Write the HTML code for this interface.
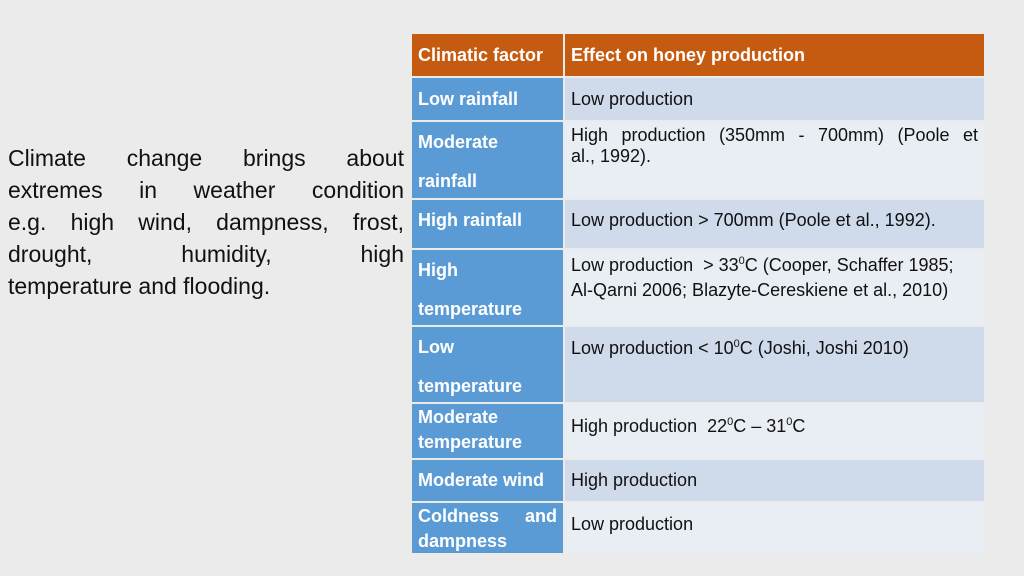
<!DOCTYPE html>
<html><head><meta charset="utf-8"><style>
body{margin:0;width:1024px;height:576px;background:#ebebeb;position:relative;overflow:hidden;font-family:"Liberation Sans",sans-serif;}
.l{position:absolute;left:8px;width:396px;font-size:23px;color:#111;text-align:justify;text-align-last:justify;white-space:nowrap;line-height:32px}
.c{position:absolute;box-sizing:border-box;font-size:18px;line-height:21px;padding:4px 6px;white-space:nowrap}
.h{background:#c55a11;color:#fff;font-weight:bold}
.b{background:#5b9bd5;color:#fff;font-weight:bold}
.d{background:#cfdaea;color:#111}
.e{background:#e9edf4;color:#111}
sup{font-size:11px;vertical-align:7px;line-height:0}
.j{text-align:justify;text-align-last:justify}
</style></head><body>
<div class="l" style="top:142px">Climate change brings about</div>
<div class="l" style="top:174px">extremes in weather condition</div>
<div class="l" style="top:206px">e.g. high wind, dampness, frost,</div>
<div class="l" style="top:238px">drought, humidity, high</div>
<div class="l" style="top:270px;text-align-last:left">temperature and flooding.</div>

<div class="c h" style="left:412px;top:34px;width:151px;height:42px;padding-top:11px">Climatic factor</div>
<div class="c h" style="left:565px;top:34px;width:419px;height:42px;padding-top:11px">Effect on honey production</div>

<div class="c b" style="left:412px;top:78px;width:151px;height:42px;padding-top:11px">Low rainfall</div>
<div class="c d" style="left:565px;top:78px;width:419px;height:42px;padding-top:11px">Low production</div>

<div class="c b" style="left:412px;top:122px;width:151px;height:76px;line-height:39px;padding-top:1px">Moderate<br>rainfall</div>
<div class="c e" style="left:565px;top:122px;width:419px;height:76px;padding-top:3px"><div class="j">High production (350mm - 700mm) (Poole et</div>al., 1992).</div>

<div class="c b" style="left:412px;top:200px;width:151px;height:48px;padding-top:10px">High rainfall</div>
<div class="c d" style="left:565px;top:200px;width:419px;height:48px;padding-top:10px">Low production &gt; 700mm (Poole et al., 1992).</div>

<div class="c b" style="left:412px;top:250px;width:151px;height:75px;line-height:39px;padding-top:1px">High<br>temperature</div>
<div class="c e" style="left:565px;top:250px;width:419px;height:75px;padding-top:3px;line-height:25px">Low production &nbsp;&gt; 33<sup>0</sup>C (Cooper, Schaffer 1985;<br>Al-Qarni 2006; Blazyte-Cereskiene et al., 2010)</div>

<div class="c b" style="left:412px;top:327px;width:151px;height:75px;line-height:39px;padding-top:1px">Low<br>temperature</div>
<div class="c d" style="left:565px;top:327px;width:419px;height:75px;padding-top:11px">Low production &lt; 10<sup>0</sup>C (Joshi, Joshi 2010)</div>

<div class="c b" style="left:412px;top:404px;width:151px;height:54px;line-height:25px;padding-top:1px">Moderate<br>temperature</div>
<div class="c e" style="left:565px;top:404px;width:419px;height:54px;padding-top:12px">High production &nbsp;22<sup>0</sup>C – 31<sup>0</sup>C</div>

<div class="c b" style="left:412px;top:460px;width:151px;height:41px;padding-top:10px">Moderate wind</div>
<div class="c d" style="left:565px;top:460px;width:419px;height:41px;padding-top:10px">High production</div>

<div class="c b" style="left:412px;top:503px;width:151px;height:50px;line-height:25px;padding-top:1px"><div style="display:flex;justify-content:space-between"><span>Coldness</span><span>and</span></div>dampness</div>
<div class="c e" style="left:565px;top:503px;width:419px;height:50px;padding-top:11px">Low production</div>
</body></html>
